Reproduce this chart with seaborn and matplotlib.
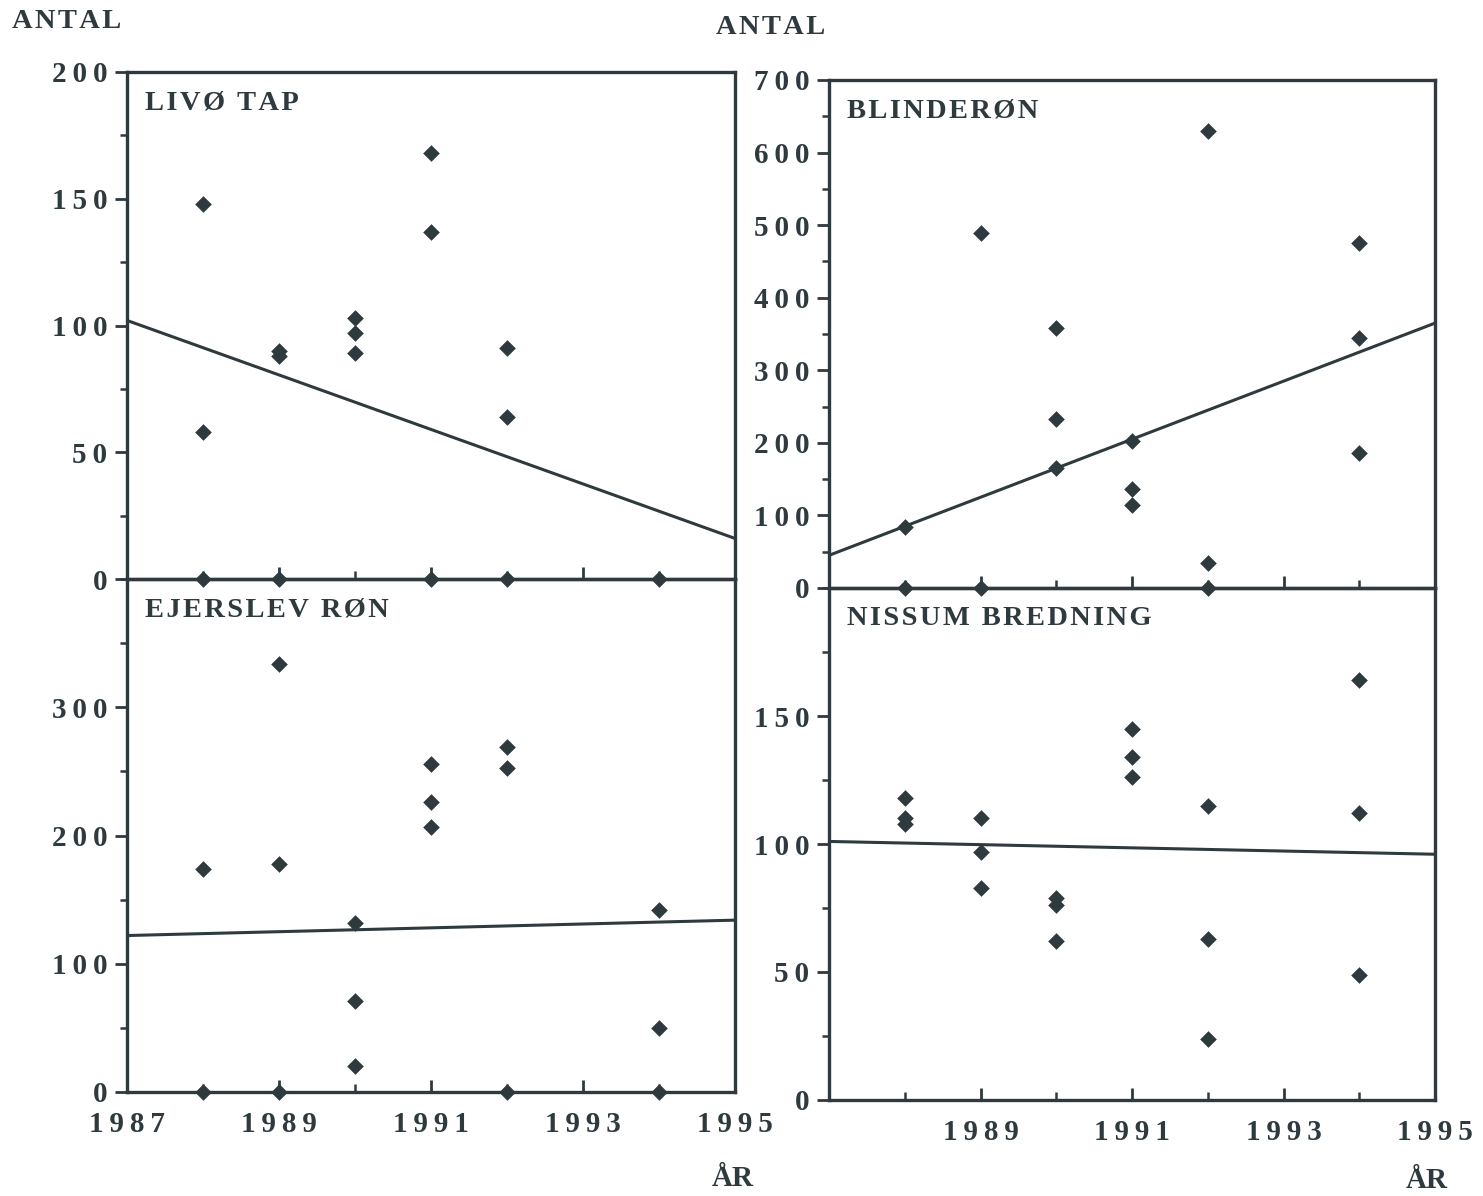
import numpy as np
import pandas as pd
import matplotlib
matplotlib.use("Agg")
import matplotlib.pyplot as plt
from matplotlib.ticker import MultipleLocator, FixedLocator
import seaborn as sns

# ---------------- data ----------------
livo_years  = [1988, 1988, 1988, 1989, 1989, 1989, 1990, 1990, 1990, 1991, 1991, 1991, 1992, 1992, 1992, 1994]
livo_counts = [148, 58, 0, 90, 88, 0, 103, 97, 89, 168, 137, 0, 91, 64, 0, 0]
livo_trend  = [102, 16]

ejer_years  = [1988, 1988, 1989, 1989, 1989, 1990, 1990, 1990, 1991, 1991, 1991, 1992, 1992, 1992, 1994, 1994, 1994]
ejer_counts = [174, 0, 334, 178, 0, 132, 71, 20, 256, 226, 207, 269, 253, 0, 142, 50, 0]
ejer_trend  = [122, 134]

blind_years  = [1988, 1988, 1989, 1989, 1990, 1990, 1990, 1991, 1991, 1991, 1992, 1992, 1992, 1994, 1994, 1994]
blind_counts = [84, 0, 489, 0, 358, 233, 166, 203, 136, 114, 630, 35, 0, 476, 345, 186]
blind_trend  = [45, 365]

nissum_years  = [1988, 1988, 1988, 1989, 1989, 1989, 1990, 1990, 1990, 1991, 1991, 1991, 1992, 1992, 1992, 1994, 1994, 1994]
nissum_counts = [118, 110, 108, 110, 97, 83, 79, 76, 62, 145, 134, 126, 115, 63, 24, 164, 112, 49]
nissum_trend  = [101, 96]

trend_years = [1987, 1995]

panel_titles = ["LIVØ TAP", "EJERSLEV RØN", "BLINDERØN", "NISSUM BREDNING"]
left_xticklabels = ["1987", "1989", "1991", "1993", "1995"]
right_xticklabels = ["1989", "1991", "1993", "1995"]
y_label = "ANTAL"
x_label = "ÅR"

# ---------------- style ----------------
sns.set_style("white")
plt.rcParams["font.family"] = ["Liberation Serif", "DejaVu Serif"]
plt.rcParams["font.weight"] = "bold"
ink = "#2f3a3f"

THIN = "\u2009"
HAIR = "\u200a"

def spaced(s, sp):
    return sp.join(list(s))

W, H = 1483, 1196
fig = plt.figure(figsize=(W / 100, H / 100), dpi=100)
fig.patch.set_facecolor("white")

def frac(x0, y0, x1, y1):
    return [x0 / W, 1 - y1 / H, (x1 - x0) / W, (y1 - y0) / H]

panels = [
    dict(rect=frac(127, 72, 735, 579), years=livo_years, counts=livo_counts, trend=livo_trend,
         title=panel_titles[0], ylim=(0, 200), major=[0, 50, 100, 150, 200], minor=25,
         xlabels=None, lab_y=None),
    dict(rect=frac(127, 579, 735, 1092), years=ejer_years, counts=ejer_counts, trend=ejer_trend,
         title=panel_titles[1], ylim=(0, 400), major=[0, 100, 200, 300], minor=50,
         xlabels=left_xticklabels, lab_y=1125),
    dict(rect=frac(829, 80, 1435, 588), years=blind_years, counts=blind_counts, trend=blind_trend,
         title=panel_titles[2], ylim=(0, 700), major=[0, 100, 200, 300, 400, 500, 600, 700], minor=50,
         xlabels=None, lab_y=None),
    dict(rect=frac(829, 588, 1435, 1100), years=nissum_years, counts=nissum_counts, trend=nissum_trend,
         title=panel_titles[3], ylim=(0, 200), major=[0, 50, 100, 150], minor=25,
         xlabels=right_xticklabels, lab_y=1133),
]

for p in panels:
    ax = fig.add_axes(p["rect"])
    ax.set_facecolor("none")
    df = pd.DataFrame({"year": p["years"], "count": p["counts"]})
    sns.scatterplot(data=df, x="year", y="count", marker="D", s=72, color=ink,
                    edgecolor=ink, linewidth=0, ax=ax, clip_on=False, zorder=5)
    tdf = pd.DataFrame({"year": trend_years, "count": p["trend"]})
    sns.lineplot(data=tdf, x="year", y="count", color=ink, lw=2.2, ax=ax)
    ax.set_xlim(1987, 1995)
    ax.set_ylim(*p["ylim"])
    ax.set_xlabel("")
    ax.set_ylabel("")
    for s in ax.spines.values():
        s.set_linewidth(2.4)
        s.set_color(ink)
        s.set_visible(True)
    ax.yaxis.set_major_locator(FixedLocator(p["major"]))
    ax.yaxis.set_minor_locator(MultipleLocator(p["minor"]))
    ax.set_yticklabels([spaced(str(v), THIN) for v in p["major"]])
    ax.tick_params(axis="y", which="major", direction="out", length=9, width=2, color=ink,
                   labelsize=21, labelcolor=ink, pad=5, left=True)
    ax.tick_params(axis="y", which="minor", direction="out", length=5, width=1.8, color=ink, left=True)
    ax.xaxis.set_major_locator(FixedLocator([1989, 1991, 1993]))
    ax.xaxis.set_minor_locator(FixedLocator([1988, 1990, 1992, 1994]))
    ax.tick_params(axis="x", which="major", direction="in", length=9, width=2, color=ink, bottom=True)
    ax.tick_params(axis="x", which="minor", direction="in", length=6, width=1.8, color=ink, bottom=True)
    ax.set_xticklabels([])
    for lab in ax.get_yticklabels():
        lab.set_fontweight("bold")
    ax.text(0.03, 0.964, spaced(p["title"], HAIR), transform=ax.transAxes, ha="left", va="top",
            fontsize=20.5, fontweight="bold", color=ink)
    if p["xlabels"] is not None:
        for lab in p["xlabels"]:
            xd = ax.transData.transform((int(lab), 0))[0]
            fig.text(xd / W, 1 - p["lab_y"] / H, spaced(lab, THIN), ha="center", va="center",
                     fontsize=21, fontweight="bold", color=ink)

fig.text(67 / W, 1 - 22 / H, spaced(y_label, HAIR), ha="center", va="center", fontsize=20.5, fontweight="bold", color=ink)
fig.text(771 / W, 1 - 27 / H, spaced(y_label, HAIR), ha="center", va="center", fontsize=20.5, fontweight="bold", color=ink)
fig.text(733 / W, 1 - 1178 / H, x_label, ha="center", va="center", fontsize=21, fontweight="bold", color=ink)
fig.text(1427 / W, 1 - 1180 / H, x_label, ha="center", va="center", fontsize=21, fontweight="bold", color=ink)

fig.savefig("out.png", dpi=100, facecolor="white")
